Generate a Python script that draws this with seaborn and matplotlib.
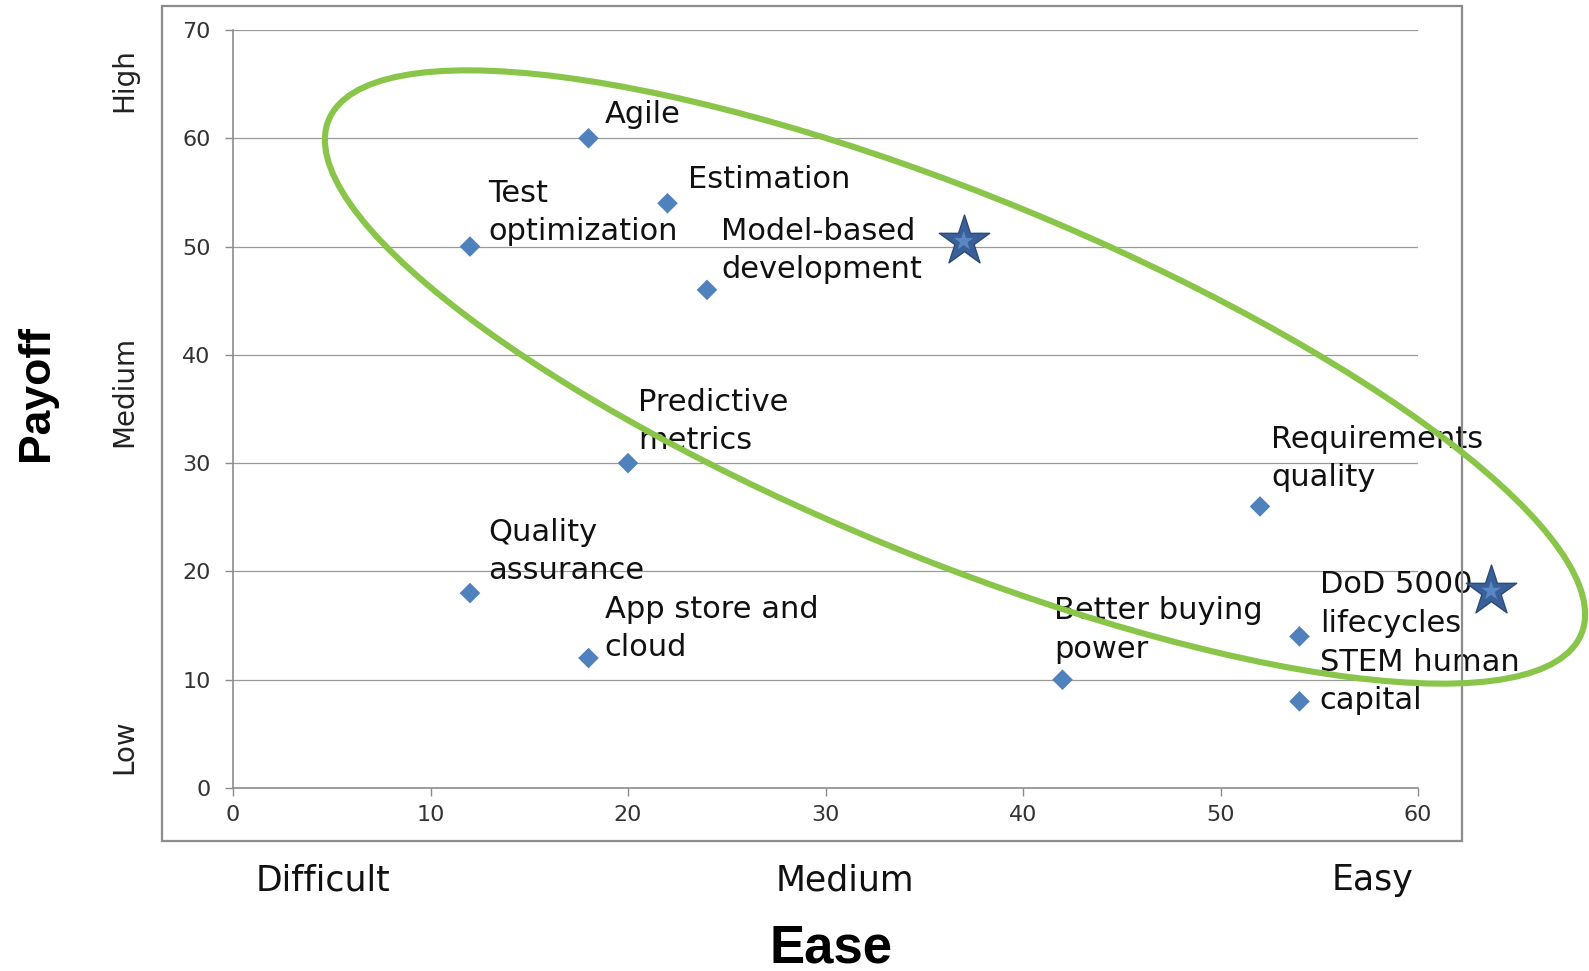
import matplotlib
matplotlib.use("Agg")
import matplotlib.pyplot as plt
import seaborn as sns
import pandas as pd
from matplotlib.patches import Ellipse, Rectangle

# ======================
# datos
# ======================
iniciativas = ["Agile", "Estimation", "Test\noptimization", "Model-based\ndevelopment",
               "Predictive\nmetrics", "Requirements\nquality", "Quality\nassurance",
               "App store and\ncloud", "Better buying\npower", "DoD 5000\nlifecycles",
               "STEM human\ncapital"]
ease = [18, 22, 12, 24, 20, 52, 12, 18, 42, 54, 54]
payoff = [60, 54, 50, 46, 30, 26, 18, 12, 10, 14, 8]

star_ease = [37, 63.7]
star_payoff = [50.5, 18.2]

x_ticks = [0, 10, 20, 30, 40, 50, 60]
y_ticks = [0, 10, 20, 30, 40, 50, 60, 70]
ease_levels = ["Difficult", "Medium", "Easy"]
payoff_levels = ["High", "Medium", "Low"]

# desplazamiento de cada etiqueta respecto a su punto (pixeles)
offsets = [(16, 23), (20, 23), (18, 34), (14, 39), (10, 41), (11, 47),
           (18, 41), (16, 29), (-8, 49), (20, 32), (20, 20)]

# ======================
# estilo
# ======================
sns.set_theme(style="white")
plt.rcParams['font.family'] = ['DejaVu Sans']

W, H = 1589, 971
fig = plt.figure(figsize=(W / 100, H / 100), dpi=100)
ax = fig.add_axes([233 / W, 1 - 788 / H, (1418 - 233) / W, (788 - 30) / H])

df = pd.DataFrame({"ease": ease, "payoff": payoff, "label": iniciativas})
sns.scatterplot(data=df, x="ease", y="payoff", marker="D", s=110, color="#4f81bd",
                edgecolor="none", ax=ax, zorder=4)

stars = pd.DataFrame({"ease": star_ease, "payoff": star_payoff})
sns.scatterplot(data=stars, x="ease", y="payoff", marker="*", s=1450, color="#3a6098",
                edgecolor="#2c4b7a", linewidth=1, ax=ax, zorder=5, clip_on=False)
sns.scatterplot(data=stars, x="ease", y="payoff", marker="*", s=220, color="#5a86c4",
                edgecolor="none", ax=ax, zorder=6, clip_on=False)

for lab, x, y, (dx, dy) in zip(iniciativas, ease, payoff, offsets):
    ax.annotate(lab, (x, y), xytext=(dx * 1.013, dy * 1.013), textcoords="offset pixels",
                ha="left", va="center", fontsize=22, color="#111111",
                linespacing=1.4, zorder=3, annotation_clip=False)

ax.set_xlim(0, 60)
ax.set_ylim(0, 70)
ax.set_xticks(x_ticks)
ax.set_yticks(y_ticks)
ax.set_xlabel("")
ax.set_ylabel("")
ax.grid(axis="y", color="#9a9a9a", linewidth=0.9)
ax.grid(axis="x", visible=False)
ax.set_axisbelow(True)
for s in ["top", "right"]:
    ax.spines[s].set_visible(False)
for s in ["left", "bottom"]:
    ax.spines[s].set_color("#8c8c8c")
    ax.spines[s].set_linewidth(1.2)
ax.tick_params(axis="x", direction="out", length=6, width=1, color="#8c8c8c",
               pad=6, labelsize=16, labelcolor="#333333", bottom=True)
ax.tick_params(axis="y", direction="out", length=6, width=1, color="#8c8c8c",
               pad=10, labelsize=16, labelcolor="#333333", left=True)

# marco exterior del grafico
fig.patches.append(Rectangle((162 / 100, (H - 841) / 100), 13.0, 8.35,
                             transform=fig.dpi_scale_trans, fill=False,
                             edgecolor="#8c8c8c", linewidth=1.6))

# elipse verde
elipse = Ellipse((955 / 100, (H - 377) / 100), 13.54, 3.62, angle=-22.3,
                 transform=fig.dpi_scale_trans, fill=False, edgecolor="#88c548",
                 linewidth=4.4, zorder=10, clip_on=False)
fig.patches.append(elipse)

# textos de los ejes
def ftxt(x, y, s, **kw):
    fig.text(x / W, 1 - y / H, s, **kw)

for lab, x in zip(ease_levels, [256, 845, 1373]):
    ha = "left" if lab == "Difficult" else "center"
    ftxt(x, 880, lab, ha=ha, va="center", fontsize=25, color="#111111")
for lab, y in zip(payoff_levels, [80, 391, 747]):
    ftxt(124, y, lab, ha="center", va="center", rotation=90, fontsize=20, color="#222222")

ftxt(831, 948, "Ease", ha="center", va="center", fontsize=38, fontweight="bold",
     family="Liberation Sans", color="black")
ftxt(37, 393, "Payoff", ha="center", va="center", rotation=90, fontsize=32,
     fontweight="bold", family="Liberation Sans", color="black")

fig.savefig("out.png", dpi=100)
